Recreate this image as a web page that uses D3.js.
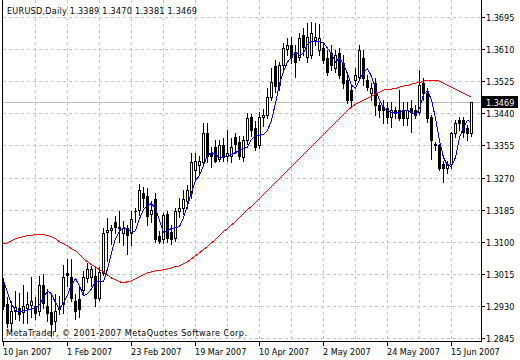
<!DOCTYPE html>
<html><head><meta charset="utf-8">
<script src="https://cdn.jsdelivr.net/npm/d3@7/dist/d3.min.js"></script>
<style>
html,body{margin:0;padding:0;background:#fff;}
svg{display:block;}
text{font-family:"DejaVu Sans Condensed","DejaVu Sans",sans-serif;font-size:9px;font-stretch:condensed;fill:#000;}
</style>
</head><body>
<svg id="c" width="520" height="360"></svg>
<script>
const symbol = "EURUSD,Daily";
const copyright = "MetaTrader, \u00a9 2001-2007 MetaQuotes Software Corp.";
const dateLabels = ["10 Jan 2007","1 Feb 2007","23 Feb 2007","19 Mar 2007","10 Apr 2007","2 May 2007","24 May 2007","15 Jun 2007"];
const dateLabelBars = [0,16,32,48,64,80,96,112];
const gridBars = [8,16,24,32,40,48,56,64,72,80,88,96,104,112];
const priceTicks = [1.2845,1.2930,1.3015,1.3100,1.3185,1.3270,1.3355,1.3440,1.3525,1.3610,1.3695];
const bidPrice = 1.3469;

const open = [1.2988,1.2935,1.2885,1.2917,1.2925,1.2914,1.2925,1.2933,1.2930,1.2917,
1.2986,1.2930,1.2914,1.2890,1.2922,1.2935,1.3018,1.3007,1.2943,1.2949,
1.2973,1.3004,1.3007,1.3010,1.2951,1.3018,1.3127,1.3132,1.3151,1.3140,
1.3124,1.3137,1.3124,1.3180,1.3185,1.3230,1.3222,1.3174,1.3212,1.3116,
1.3108,1.3174,1.3127,1.3111,1.3182,1.3188,1.3209,1.3228,1.3289,1.3302,
1.3310,1.3387,1.3334,1.3350,1.3320,1.3355,1.3328,1.3328,1.3376,1.3363,
1.3323,1.3368,1.3429,1.3400,1.3355,1.3429,1.3435,1.3483,1.3565,1.3514,
1.3568,1.3610,1.3621,1.3602,1.3589,1.3647,1.3589,1.3594,1.3634,1.3607,
1.3613,1.3586,1.3599,1.3560,1.3599,1.3573,1.3528,1.3501,1.3528,1.3536,
1.3586,1.3528,1.3493,1.3520,1.3461,1.3456,1.3453,1.3429,1.3448,1.3448,
1.3448,1.3427,1.3453,1.3448,1.3443,1.3520,1.3493,1.3429,1.3360,1.3355,
1.3307,1.3294,1.3307,1.3387,1.3421,1.3421,1.3400,1.3389];
const high = [1.3004,1.2954,1.2943,1.2970,1.2965,1.2986,1.2967,1.3007,1.2954,1.3010,
1.3015,1.2975,1.2965,1.2962,1.2957,1.3039,1.3055,1.3055,1.2962,1.2983,
1.3023,1.3044,1.3036,1.3034,1.3034,1.3137,1.3164,1.3145,1.3169,1.3182,
1.3156,1.3145,1.3182,1.3190,1.3254,1.3246,1.3243,1.3209,1.3228,1.3129,
1.3177,1.3182,1.3143,1.3190,1.3217,1.3238,1.3249,1.3336,1.3336,1.3328,
1.3413,1.3413,1.3352,1.3368,1.3368,1.3374,1.3395,1.3374,1.3387,1.3379,
1.3379,1.3440,1.3437,1.3419,1.3443,1.3451,1.3506,1.3560,1.3581,1.3575,
1.3626,1.3639,1.3642,1.3621,1.3653,1.3666,1.3679,1.3682,1.3679,1.3676,
1.3629,1.3607,1.3621,1.3607,1.3613,1.3594,1.3549,1.3514,1.3560,1.3621,
1.3607,1.3541,1.3520,1.3533,1.3469,1.3475,1.3469,1.3469,1.3456,1.3501,
1.3469,1.3469,1.3475,1.3461,1.3554,1.3533,1.3506,1.3435,1.3363,1.3360,
1.3315,1.3315,1.3390,1.3421,1.3429,1.3429,1.3408,1.3470];
const low = [1.2922,1.2874,1.2864,1.2895,1.2893,1.2885,1.2885,1.2901,1.2895,1.2906,
1.2925,1.2890,1.2850,1.2864,1.2909,1.2911,1.2983,1.2943,1.2895,1.2901,
1.2962,1.2994,1.2983,1.2930,1.2946,1.3012,1.3050,1.3095,1.3124,1.3100,
1.3092,1.3068,1.3092,1.3151,1.3172,1.3193,1.3143,1.3151,1.3100,1.3097,
1.3097,1.3100,1.3095,1.3103,1.3166,1.3174,1.3188,1.3217,1.3267,1.3283,
1.3302,1.3310,1.3299,1.3310,1.3313,1.3313,1.3313,1.3310,1.3336,1.3320,
1.3313,1.3360,1.3379,1.3342,1.3347,1.3406,1.3427,1.3475,1.3496,1.3501,
1.3554,1.3594,1.3573,1.3536,1.3581,1.3594,1.3575,1.3586,1.3621,1.3594,
1.3573,1.3541,1.3554,1.3549,1.3533,1.3506,1.3467,1.3459,1.3517,1.3528,
1.3514,1.3501,1.3475,1.3435,1.3429,1.3413,1.3413,1.3403,1.3427,1.3421,
1.3408,1.3408,1.3390,1.3427,1.3437,1.3475,1.3416,1.3320,1.3342,1.3289,
1.3257,1.3281,1.3294,1.3376,1.3395,1.3376,1.3368,1.3381];
const close = [1.2930,1.2885,1.2917,1.2927,1.2909,1.2930,1.2935,1.2943,1.2911,1.2986,
1.2938,1.2911,1.2882,1.2917,1.2925,1.3007,1.3012,1.2951,1.2917,1.2922,
1.3007,1.3028,1.3028,1.2951,1.3020,1.3124,1.3132,1.3137,1.3140,1.3137,
1.3137,1.3119,1.3161,1.3182,1.3236,1.3217,1.3169,1.3185,1.3108,1.3103,
1.3172,1.3111,1.3108,1.3182,1.3188,1.3214,1.3236,1.3310,1.3315,1.3315,
1.3387,1.3328,1.3326,1.3315,1.3355,1.3328,1.3336,1.3350,1.3360,1.3328,
1.3368,1.3427,1.3395,1.3350,1.3429,1.3435,1.3483,1.3522,1.3512,1.3568,
1.3613,1.3621,1.3589,1.3575,1.3639,1.3615,1.3642,1.3653,1.3642,1.3639,
1.3581,1.3549,1.3568,1.3594,1.3541,1.3520,1.3475,1.3475,1.3541,1.3607,
1.3533,1.3509,1.3506,1.3461,1.3448,1.3448,1.3429,1.3448,1.3443,1.3427,
1.3427,1.3448,1.3443,1.3435,1.3514,1.3493,1.3427,1.3368,1.3355,1.3294,
1.3294,1.3307,1.3387,1.3413,1.3413,1.3390,1.3387,1.3469];
const maFast = [1.2996,1.2965,1.2935,1.2917,1.2914,1.2917,1.2919,1.2922,1.2925,1.2933,
1.2951,1.2970,1.2962,1.2938,1.2922,1.2938,1.2959,1.2986,1.3002,1.2983,
1.2957,1.2962,1.2975,1.2994,1.2994,1.2994,1.3028,1.3071,1.3108,1.3129,
1.3137,1.3135,1.3124,1.3129,1.3161,1.3185,1.3196,1.3201,1.3188,1.3156,
1.3124,1.3129,1.3135,1.3137,1.3140,1.3164,1.3196,1.3230,1.3262,1.3275,
1.3302,1.3328,1.3336,1.3331,1.3323,1.3323,1.3326,1.3331,1.3336,1.3342,
1.3347,1.3350,1.3371,1.3382,1.3382,1.3384,1.3395,1.3421,1.3467,1.3517,
1.3552,1.3575,1.3589,1.3602,1.3594,1.3599,1.3623,1.3631,1.3631,1.3631,
1.3626,1.3613,1.3597,1.3575,1.3586,1.3570,1.3544,1.3514,1.3506,1.3528,
1.3549,1.3557,1.3538,1.3506,1.3475,1.3453,1.3448,1.3443,1.3440,1.3443,
1.3448,1.3448,1.3443,1.3435,1.3453,1.3490,1.3501,1.3475,1.3427,1.3368,
1.3323,1.3302,1.3299,1.3323,1.3376,1.3403,1.3421,1.3416];
const maSlow = [1.3095,1.3097,1.3103,1.3108,1.3111,1.3113,1.3116,1.3117,1.3119,1.3119,
1.3119,1.3116,1.3113,1.3108,1.3100,1.3095,1.3089,1.3081,1.3076,1.3066,
1.3055,1.3047,1.3039,1.3034,1.3026,1.3020,1.3012,1.3004,1.2999,1.2994,
1.2991,1.2994,1.2996,1.3002,1.3007,1.3012,1.3018,1.3020,1.3023,1.3023,
1.3026,1.3028,1.3031,1.3034,1.3036,1.3042,1.3047,1.3055,1.3063,1.3071,
1.3079,1.3087,1.3097,1.3105,1.3116,1.3127,1.3135,1.3145,1.3153,1.3164,
1.3174,1.3185,1.3193,1.3204,1.3214,1.3225,1.3236,1.3246,1.3257,1.3267,
1.3278,1.3289,1.3299,1.3310,1.3320,1.3331,1.3342,1.3352,1.3363,1.3374,
1.3384,1.3395,1.3405,1.3416,1.3427,1.3437,1.3448,1.3456,1.3464,1.3469,
1.3475,1.3480,1.3485,1.3490,1.3496,1.3501,1.3504,1.3504,1.3506,1.3509,
1.3512,1.3514,1.3517,1.3520,1.3522,1.3525,1.3528,1.3528,1.3528,1.3525,
1.3520,1.3514,1.3509,1.3504,1.3498,1.3493,1.3488,1.3483];

const svg = d3.select("#c");
const n = close.length;
const x = d3.scaleLinear().domain([0, n - 1]).range([3, 471]);
const y = d3.scaleLinear().domain([1.2845, 1.3695]).range([338, 17]);
const X = i => Math.round(x(i));
const Y = v => Math.round(y(v));

const plotL = 2, plotR = 481, plotB = 341;
const gridColor = "#c0c0c0";

// grid
const g = svg.append("g").attr("shape-rendering", "crispEdges");
g.selectAll("line.hg").data(priceTicks).join("line")
  .attr("x1", plotL + 1).attr("x2", plotR)
  .attr("y1", d => Y(d) + 0.5).attr("y2", d => Y(d) + 0.5)
  .attr("stroke", gridColor).attr("stroke-dasharray", "3,3");
g.selectAll("line.vg").data(gridBars).join("line")
  .attr("x1", d => X(d) + 0.5).attr("x2", d => X(d) + 0.5)
  .attr("y1", 0).attr("y2", plotB)
  .attr("stroke", gridColor).attr("stroke-dasharray", "3,3");

// bid line
g.append("line").attr("x1", plotL + 1).attr("x2", plotR)
  .attr("y1", Y(bidPrice) + 0.5).attr("y2", Y(bidPrice) + 0.5)
  .attr("stroke", gridColor);

// candles
const cg = svg.append("g").attr("shape-rendering", "crispEdges");
d3.range(n).forEach(i => {
  const cx = X(i);
  cg.append("line").attr("x1", cx + 0.5).attr("x2", cx + 0.5)
    .attr("y1", Y(high[i])).attr("y2", Y(low[i]) + 1).attr("stroke", "#000");
  const top = Y(Math.max(open[i], close[i])), bot = Y(Math.min(open[i], close[i]));
  if (bot - top < 1) {
    cg.append("line").attr("x1", cx - 1).attr("x2", cx + 2)
      .attr("y1", top + 0.5).attr("y2", top + 0.5).attr("stroke", "#000");
  } else {
    cg.append("rect").attr("x", cx - 0.5).attr("y", top + 0.5)
      .attr("width", 2).attr("height", bot - top)
      .attr("fill", close[i] >= open[i] ? "#fff" : "#000").attr("stroke", "#000");
  }
});

// moving averages
const line = d3.line().x((d, i) => X(i) + 0.5).y(d => y(d));
svg.append("path").datum(maSlow).attr("d", line).attr("fill", "none")
  .attr("stroke", "#ff0000").attr("stroke-width", 1).attr("shape-rendering", "crispEdges");
svg.append("path").datum(maFast).attr("d", line).attr("fill", "none")
  .attr("stroke", "#0000ff").attr("stroke-width", 1).attr("shape-rendering", "crispEdges");

// frame
const fg = svg.append("g").attr("shape-rendering", "crispEdges").attr("stroke", "#000");
fg.append("line").attr("x1", plotL + 0.5).attr("x2", plotL + 0.5).attr("y1", 0).attr("y2", plotB + 1);
fg.append("line").attr("x1", plotR + 0.5).attr("x2", plotR + 0.5).attr("y1", 0).attr("y2", plotB + 1);
fg.append("line").attr("x1", plotL).attr("x2", plotR + 1).attr("y1", plotB + 0.5).attr("y2", plotB + 0.5);

// price axis
priceTicks.forEach(p => {
  fg.append("line").attr("x1", plotR + 1).attr("x2", plotR + 4)
    .attr("y1", Y(p) + 0.5).attr("y2", Y(p) + 0.5);
  svg.append("text").attr("x", 486).attr("y", Y(p) + 4).text(p.toFixed(4));
});
// date axis
dateLabelBars.forEach((b, k) => {
  fg.append("line").attr("x1", X(b) + 0.5).attr("x2", X(b) + 0.5)
    .attr("y1", plotB + 1).attr("y2", plotB + 5);
  svg.append("text").attr("x", X(b)).attr("y", 355).text(dateLabels[k]);
});

// bid label
svg.append("rect").attr("x", 482).attr("y", Y(bidPrice) - 6).attr("width", 36).attr("height", 12).attr("fill", "#000");
svg.append("text").attr("x", 486).attr("y", Y(bidPrice) + 4).style("fill", "#fff").text(bidPrice.toFixed(4));

// title and copyright
const last = n - 1;
svg.append("text").attr("x", 7).attr("y", 14)
  .attr("textLength", 190).attr("lengthAdjust", "spacing")
  .text(symbol + "  " + [open[last], high[last], low[last], close[last]].map(v => v.toFixed(4)).join(" "));
svg.append("text").attr("x", 6).attr("y", 336)
  .attr("textLength", 241).attr("lengthAdjust", "spacing")
  .text(copyright);
</script>
</body></html>
